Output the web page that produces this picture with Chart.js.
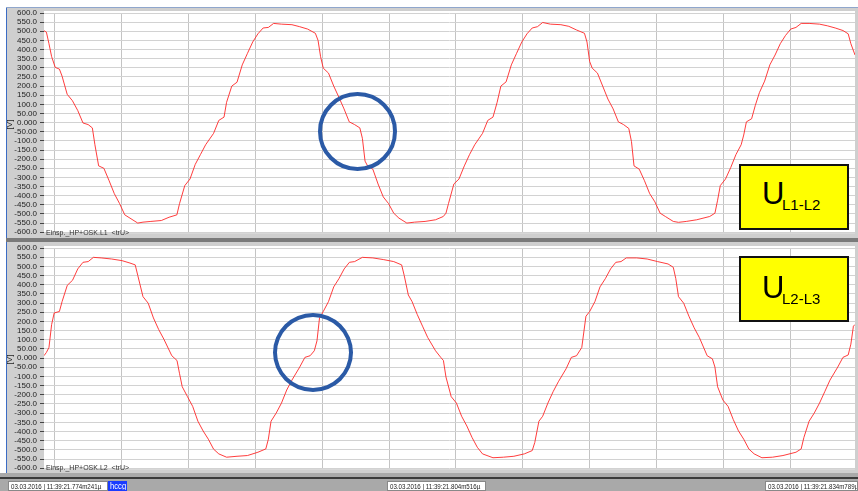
<!DOCTYPE html>
<html><head><meta charset="utf-8">
<script src="https://cdn.jsdelivr.net/npm/chart.js@4.4.1/dist/chart.umd.min.js"></script>
<style>
html,body{margin:0;padding:0;background:#fff;}
body{width:858px;height:491px;position:relative;overflow:hidden;font-family:"Liberation Sans",Arial,sans-serif;}
.gray{position:absolute;background:#c8c8c8;}
canvas{position:absolute;left:0;}
.vlab{position:absolute;font-size:8px;color:#222;transform:rotate(-90deg);transform-origin:center;}
.clab{position:absolute;font-size:7px;color:#333;white-space:pre;}
.box{position:absolute;background:#ffff00;border:2px solid #111;box-sizing:border-box;font-family:"Liberation Sans",Arial,sans-serif;color:#000;}
.box .u{position:absolute;font-size:31px;line-height:1;}
.box .s{position:absolute;font-size:15px;line-height:1;}
.ring{position:absolute;border:4px solid #2b5aa6;border-radius:50%;box-sizing:border-box;}
.status{position:absolute;left:0;top:473px;width:858px;height:18px;background:#a9a9a9;}
.sbox{position:absolute;top:481px;height:10px;background:#fff;border:1px solid #888;box-sizing:border-box;color:#222;overflow:hidden;}
.sbox span{position:absolute;left:2px;top:0;font-size:7.5px;line-height:9px;white-space:nowrap;transform:scaleX(0.82);transform-origin:left center;}
</style></head>
<body>
<div class="gray" style="left:6px;top:7px;width:852px;height:466px;background:#cfcfcf;"></div>
<div class="gray" style="left:6px;top:7px;width:1px;height:466px;background:#3b6cc4;"></div>
<div class="gray" style="left:6px;top:7px;width:852px;height:1px;background:#8fa6cc;"></div>
<div class="gray" style="left:6px;top:238px;width:852px;height:4px;background:#7a7a7a;"></div>
<canvas id="c1" width="858" height="240" style="top:0;"></canvas>
<canvas id="c2" width="858" height="240" style="top:236px;"></canvas>
<div class="vlab" style="left:5px;top:120px;">[V]</div>
<div class="vlab" style="left:5px;top:355px;">[V]</div>
<div class="clab" style="left:46px;top:229px;">Einsp._HP+OSK.L1  &lt;trU&gt;</div>
<div class="clab" style="left:46px;top:464px;">Einsp._HP+OSK.L2  &lt;trU&gt;</div>
<div class="ring" style="left:318px;top:92px;width:79px;height:79px;"></div>
<div class="ring" style="left:273px;top:313px;width:80px;height:79px;"></div>
<div class="box" style="left:739px;top:164px;width:110px;height:66px;"><span class="u" style="left:21px;top:12px;">U</span><span class="s" style="left:41px;top:31px;">L1-L2</span></div>
<div class="box" style="left:739px;top:256px;width:110px;height:66px;"><span class="u" style="left:21px;top:14px;">U</span><span class="s" style="left:41px;top:33px;">L2-L3</span></div>
<div class="status"><div style="position:absolute;left:0;top:4px;width:858px;height:2px;background:#3a3a3a;"></div></div>
<div class="sbox" style="left:8px;width:100px;"><span>03.03.2016 | 11:39:21.774m241µ</span></div>
<div class="sbox" style="left:108px;width:19px;background:#1a3cff;color:#fff;border-color:#1a3cff;"><span style="font-size:8.5px;transform:scaleX(0.9);left:1px;">hccg</span></div>
<div class="sbox" style="left:387px;width:99px;"><span>03.03.2016 | 11:39:21.804m516µ</span></div>
<div class="sbox" style="left:765px;width:93px;"><span>03.03.2016 | 11:39:21.834m789µ</span></div>
<script>
// time axis (ms within second 11:39:21)
const T0 = 774.241, T1 = 834.789;
const gridTimes = [775,780,785,790,795,800,805,810,815,820,825,830];
const yTicks = [600,550,500,450,400,350,300,250,200,150,100,50,0,-50,-100,-150,-200,-250,-300,-350,-400,-450,-500,-550,-600];

// U L1-L2 : time offset (ms from T0) and voltage (V)
const tTop = [0,0.18,0.37,0.57,0.84,1.15,1.35,1.73,2.12,2.52,2.91,3.30,3.61,3.80,4.08,4.47,4.86,5.25,5.64,6.03,6.42,7.00,7.39,7.98,8.76,9.34,9.92,10.12,10.51,10.90,11.29,11.68,12.07,12.66,13.05,13.44,13.63,14.02,14.41,14.80,15.19,15.58,15.97,16.36,16.75,17.14,17.73,18.51,19.09,19.68,20.26,20.46,20.65,20.85,21.24,21.63,22.02,22.40,22.79,23.19,23.58,23.77,23.97,24.16,24.55,24.94,25.33,25.72,26.11,26.50,27.09,27.67,28.45,29.23,29.81,30.01,30.20,30.60,30.98,31.38,31.77,32.16,32.74,33.13,33.52,33.83,34.11,34.50,34.89,35.28,35.67,36.06,36.45,36.84,37.23,37.81,38.59,39.18,39.76,40.35,40.54,40.74,40.93,41.32,41.71,42.10,42.49,42.88,43.27,43.66,43.86,44.05,44.44,44.83,45.22,45.61,46.00,46.39,46.98,47.37,47.95,48.73,49.70,50.09,50.29,50.49,50.88,51.27,51.66,52.05,52.24,52.44,52.83,53.10,53.41,53.80,54.19,54.58,54.97,55.36,55.75,56.14,56.53,57.12,57.90,58.48,59.07,59.65,60.04,60.24,60.55];
const vTop = [503,495,432,361,302,293,254,155,120,66,-2,-11,-29,-121,-237,-250,-318,-389,-443,-505,-523,-550,-545,-541,-536,-518,-505,-443,-345,-309,-229,-175,-121,-59,12,30,111,200,221,316,379,441,486,518,521,543,539,536,525,512,489,450,361,298,271,200,138,75,4,-11,-29,-86,-211,-237,-255,-336,-407,-443,-496,-523,-550,-545,-541,-532,-514,-496,-443,-336,-309,-237,-175,-121,-59,12,30,111,200,223,316,379,441,486,518,525,548,539,536,527,507,489,441,334,298,271,200,129,75,4,-11,-32,-104,-237,-255,-318,-389,-434,-496,-514,-541,-546,-541,-532,-514,-496,-425,-345,-309,-246,-175,-121,-68,4,21,93,164,227,316,370,432,477,512,521,543,543,539,530,518,504,486,432,370];

// U L2-L3
const tBot = [0,0.18,0.37,0.57,0.76,1.15,1.35,1.74,2.13,2.52,2.91,3.30,3.69,4.27,5.05,5.83,6.42,6.81,7.00,7.39,7.78,8.17,8.56,8.95,9.54,9.93,10.12,10.32,10.71,11.10,11.49,11.88,12.27,12.66,13.05,13.63,14.41,15.19,15.97,16.56,16.75,16.95,17.34,17.73,18.12,18.51,19.09,19.48,19.87,20.18,20.38,20.57,20.85,21.24,21.63,22.02,22.41,22.80,23.19,23.77,24.55,25.33,26.11,26.70,26.89,27.20,27.48,27.87,28.26,28.65,29.23,29.62,29.82,30.01,30.40,30.79,31.18,31.57,31.96,32.35,32.74,33.52,34.30,35.08,35.86,36.45,36.64,36.95,37.23,37.62,38.01,38.40,38.98,39.37,39.76,40.15,40.46,40.74,41.13,41.51,41.91,42.30,42.69,43.08,43.47,44.25,45.03,45.81,46.59,46.98,47.17,47.37,47.76,48.15,48.54,48.93,49.51,49.90,50.09,50.29,50.68,51.07,51.46,51.85,52.24,52.63,53.02,53.60,54.39,55.17,56.14,56.53,56.73,57.12,57.51,57.90,58.29,58.68,59.26,59.65,60.04,60.24,60.43,60.55];
const vBot = [13,31,58,183,246,254,308,397,424,486,522,526,549,546,540,531,518,508,451,335,299,219,156,103,13,-13,-85,-156,-210,-263,-344,-397,-442,-496,-522,-540,-535,-531,-513,-495,-442,-344,-299,-245,-174,-120,-49,4,13,40,94,219,254,308,388,433,486,522,526,549,546,537,526,508,451,344,308,237,174,112,40,4,-13,-103,-210,-245,-317,-370,-433,-486,-522,-543,-540,-535,-522,-504,-460,-344,-317,-245,-183,-129,-58,4,13,58,228,254,308,388,433,486,522,526,546,546,540,526,513,495,433,335,299,228,165,112,13,-4,-49,-156,-228,-263,-335,-397,-442,-496,-522,-543,-540,-531,-513,-495,-433,-344,-299,-245,-183,-120,-49,4,17,76,174,183];

function fmt(v){const a=Math.abs(v);if(a>=100)return v.toFixed(1);if(a>=10)return v.toFixed(2);return v.toFixed(3);}

const whiteArea = {id:'whiteArea',beforeDraw(c){const a=c.chartArea,x=c.ctx;x.save();x.fillStyle='#fff';x.fillRect(a.left,a.top-2,a.right-a.left,a.bottom-a.top+3);x.restore();}};

function make(id, ts, vs, padTop, padBot){
  const pts = ts.map((t,i)=>({x:T0+t,y:vs[i]}));
  new Chart(document.getElementById(id),{
    type:'line',
    data:{datasets:[{data:pts,borderColor:'rgba(255,40,40,0.9)',borderWidth:1,pointRadius:0,tension:0,fill:false}]},
    options:{
      responsive:false,animation:false,
      layout:{padding:{left:0,right:3,top:padTop,bottom:padBot}},
      plugins:{legend:{display:false},tooltip:{enabled:false}},
      scales:{
        x:{type:'linear',min:T0,max:T1,
           afterBuildTicks(s){s.ticks=gridTimes.map(v=>({value:v}));},
           afterFit(s){s.height=0;},
           ticks:{display:false},
           grid:{color:'#c4c4c4',lineWidth:1,drawTicks:false},
           border:{display:false}},
        y:{min:-600,max:600,
           afterBuildTicks(s){s.ticks=yTicks.map(v=>({value:v}));},
           afterFit(s){s.width=44;},
           ticks:{autoSkip:false,padding:3,color:'#222',font:{family:'Liberation Sans',size:8},callback:v=>fmt(v)},
           grid:{color:'#d2d2d2',lineWidth:1,tickLength:4,tickColor:'#444'},
           border:{display:false}}
      }
    },
    plugins:[whiteArea]
  });
}
make('c1', tTop, vTop, 13, 3);
make('c2', tBot, vBot, 12, 4);
</script>
</body></html>
